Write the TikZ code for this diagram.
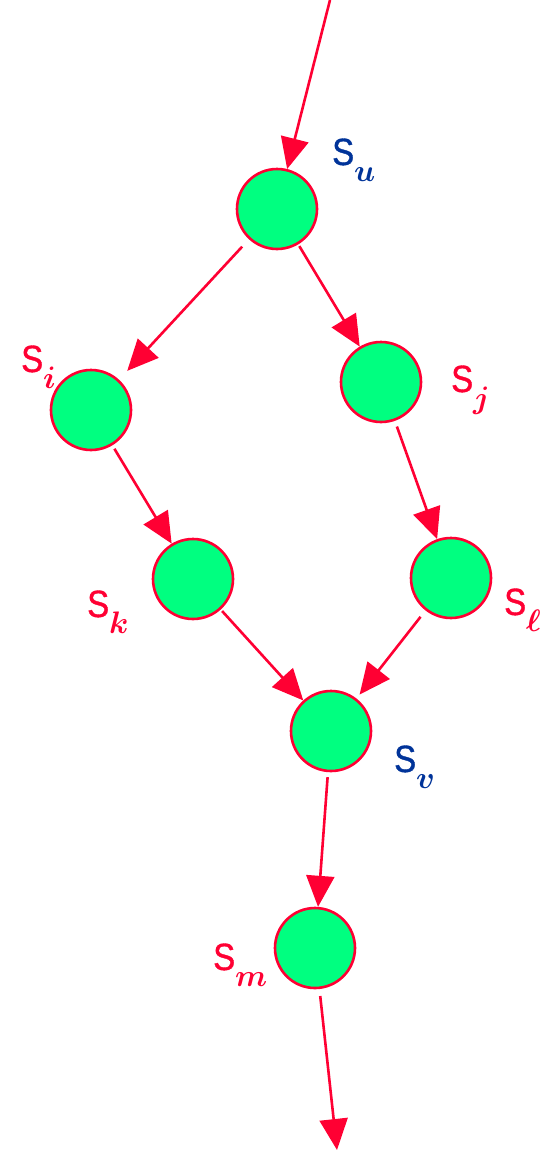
\documentclass[tikz,border=0pt]{standalone}
\usepackage{graphicx}
\usepackage{fontspec}
\newfontfamily\lblfont{Liberation Sans}[FakeBold=1]
\usetikzlibrary{arrows.meta}
\definecolor{edgered}{HTML}{FF0033}
\definecolor{nodegreen}{HTML}{00FF80}
\definecolor{lblblue}{HTML}{003399}
\newcommand{\stlabel}[1]{\fontsize{33}{36}\lblfont\scalebox{1}[1.15]{S}\raisebox{-16pt}{\scalebox{1.25}{\fontsize{24.88}{26}\selectfont\boldmath$#1$}}}
\tikzset{
  state/.style={circle, draw=edgered, line width=2.6pt, fill=nodegreen, minimum size=80pt, inner sep=0pt},
  flow/.style={draw=edgered, line width=2.6pt, -{Triangle[length=31pt,width=28pt]}, edgered},
  lblred/.style={anchor=base west, inner sep=0pt, text=edgered},
  lblblu/.style={anchor=base west, inner sep=0pt, text=lblblue},
}
\begin{document}
\begin{tikzpicture}[x=1pt,y=-1pt]
\useasboundingbox (0,0) rectangle (553,1154);
\node[state] (u) at (277,209) {};
\node[state] (i) at (91,410) {};
\node[state] (j) at (381,382) {};
\node[state] (k) at (193,579) {};
\node[state] (l) at (451,578) {};
\node[state] (v) at (331,731) {};
\node[state] (m) at (315,948) {};
\coordinate (top) at (330,0);
\coordinate (bot) at (337,1150);
\node[lblblu] (lu) at (332,165) {\stlabel{u}};
\node[lblred] (li) at (21,372) {\stlabel{i}};
\node[lblred] (lj) at (451,392) {\stlabel{j}};
\node[lblred] (lk) at (87,617) {\stlabel{k}};
\node[lblred] (ll) at (504,615) {\stlabel{\ell}};
\node[lblblu] (lv) at (394,772) {\stlabel{v}};
\node[lblred] (lm) at (213,970) {\stlabel{m}};
\draw[flow] (top) -- (u);
\draw[flow, shorten <=10pt, shorten >=12pt] (u) -- (i);
\draw[flow, shorten <=2pt] (u) -- (j);
\draw[flow, shorten <=4pt] (i) -- (k);
\draw[flow, shorten <=6pt] (j) -- (l);
\draw[flow, shorten <=2pt] (k) -- (v);
\draw[flow, shorten <=8pt, shorten >=5pt] (l) -- (v);
\draw[flow, shorten <=5pt] (v) -- (m);
\draw[flow, shorten <=7pt] (m) -- (bot);
\end{tikzpicture}
\end{document}
